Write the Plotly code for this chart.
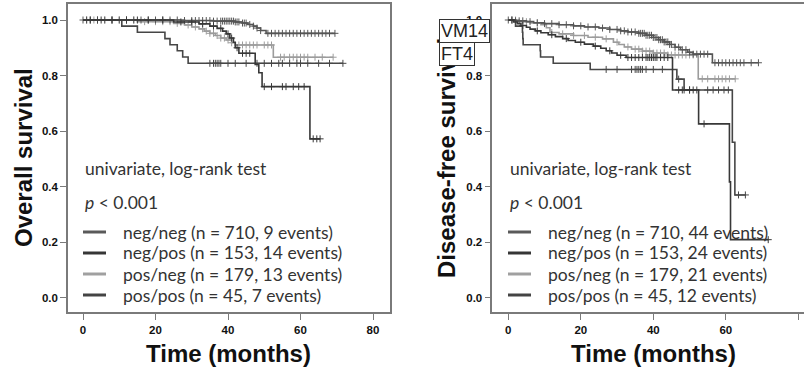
import plotly.graph_objects as go

W, H = 804, 369

GROUPS = ["neg/neg", "neg/pos", "pos/neg", "pos/pos"]

# ---- Overall survival: event times (months) and survival after each event ----
os_nn_t = [28, 36, 42, 44, 45.5, 47, 48, 49, 50.5]
os_nn_s = [0.998, 0.996, 0.993, 0.989, 0.984, 0.978, 0.971, 0.962, 0.952]
os_nn_end = 69.5
os_nn_cens = [0, 2, 4, 6, 8, 10, 12, 14, 16, 18, 20, 22, 24, 26, 28, 30, 31, 32, 33, 34,
              35, 36, 37, 38, 38.5, 39, 39.5, 40, 40.5, 41, 41.5, 42, 42.5, 43, 44, 44.5,
              45, 46, 47, 48, 49, 51, 52, 53, 54, 55, 56, 57, 58, 59, 60, 61, 62, 63, 64,
              65, 66, 67, 68, 69.5]

os_np_t = [25, 32, 35, 37, 38.5, 39.5, 40.5, 41.5, 42, 43, 47.5, 48.5, 49.4, 62.6]
os_np_s = [0.993, 0.986, 0.978, 0.970, 0.960, 0.950, 0.935, 0.920, 0.900, 0.880,
           0.840, 0.810, 0.760, 0.572]
os_np_end = 65.4
os_np_cens = [2, 5, 8, 12, 15, 18, 22, 27, 30, 33, 36, 38, 40, 41, 42.5, 44, 45, 46,
              50, 52, 55, 56, 58, 59.5, 61, 63.5, 64.5, 65.4]

os_pn_t = [15, 25, 28, 30, 32, 33.5, 35, 36.5, 38, 39.5, 41, 42, 52.5]
os_pn_s = [0.994, 0.988, 0.982, 0.975, 0.968, 0.960, 0.952, 0.944, 0.935, 0.928,
           0.918, 0.910, 0.866]
os_pn_end = 69
os_pn_cens = [1, 3, 6, 8, 10, 12, 14, 17, 20, 22, 24, 26, 29, 31, 33, 34, 35, 36, 37,
              38, 39, 40, 41, 43, 44, 45, 46, 47, 48, 50, 51, 52, 54.5, 55.5, 57, 58, 59,
              60, 61, 62, 64, 66, 69]

os_pp_t = [10.7, 15, 22.6, 24, 26, 27.5, 29]
os_pp_s = [0.978, 0.956, 0.933, 0.911, 0.889, 0.867, 0.844]
os_pp_end = 71.7
os_pp_cens = [1, 4, 35, 36, 36.5, 37, 37.5, 38, 40, 42, 45, 48, 50, 52, 54, 55, 57, 59,
              60, 62, 65, 68, 71.7]

# ---- Disease-free survival ----
dfs_nn_t = [2, 5, 7, 10, 14, 18, 21, 25, 28, 31, 33, 36, 38, 40, 41.5, 43, 44.5, 46,
            47.5, 49.5, 51, 56.3]
dfs_nn_s = [0.997, 0.994, 0.990, 0.987, 0.983, 0.979, 0.975, 0.971, 0.966, 0.961,
            0.957, 0.952, 0.945, 0.937, 0.929, 0.921, 0.912, 0.902, 0.893, 0.884,
            0.877, 0.846]
dfs_nn_end = 69
dfs_nn_cens = [0, 1, 2, 3, 4, 6, 8, 10, 12, 14, 16, 18, 20, 22, 24, 26, 28, 30, 31, 32,
               33, 34, 35, 36, 36.5, 37, 37.5, 38, 38.5, 39, 39.5, 40, 40.5, 41, 41.5,
               42, 42.5, 43, 43.5, 44, 44.5, 45, 46, 47, 48, 49, 50, 51, 52, 53, 54, 55,
               57, 58, 59, 60, 61, 62, 63, 64, 65, 67, 69]

dfs_np_t = [1.5, 2.5, 3.5, 5, 6, 7.5, 9, 11, 13, 15, 16.5, 18.5, 21, 23.5, 25.5, 27,
            28.5, 30, 32.5, 45.3, 52.5, 61.0, 61.3]
dfs_np_s = [0.993, 0.987, 0.980, 0.974, 0.967, 0.961, 0.954, 0.947, 0.940, 0.933,
            0.926, 0.920, 0.913, 0.906, 0.898, 0.889, 0.881, 0.873, 0.865, 0.748,
            0.626, 0.417, 0.209]
dfs_np_end = 71.7
dfs_np_cens = [1, 4, 8, 12, 16, 20, 24, 28, 31, 33, 34, 35, 36, 37, 38, 38.5, 39, 39.5,
               40, 40.5, 41, 42, 43, 44, 47, 48, 50, 51, 54, 71.7]

dfs_pn_t = [3, 6, 9, 10.5, 11.5, 14, 18, 22, 26, 29, 30.5, 32, 34, 37, 40, 44, 52.4]
dfs_pn_s = [0.994, 0.989, 0.983, 0.972, 0.955, 0.950, 0.944, 0.938, 0.932, 0.920,
            0.912, 0.903, 0.895, 0.888, 0.881, 0.874, 0.788]
dfs_pn_end = 62.6
dfs_pn_cens = [2, 5, 8, 12, 15, 18, 21, 24, 27, 30, 33, 35, 36, 37, 38, 39, 40, 41, 42,
               43, 44, 45, 46, 47, 48, 49, 50, 51, 53.5, 55, 57, 58, 59, 60, 61, 62.6]

dfs_pp_t = [2, 3.9, 4.0, 4.1, 8.8, 8.9, 12.4, 22.6, 46.5, 48.5, 61.8, 62.5]
dfs_pp_s = [0.978, 0.956, 0.933, 0.911, 0.889, 0.867, 0.844, 0.822, 0.787, 0.748,
            0.560, 0.370]
dfs_pp_end = 65.4
dfs_pp_cens = [27, 30, 34, 35, 35.5, 36, 36.5, 37, 38, 40, 42.5, 47, 48.5, 50, 52,
               55, 56.5, 58, 59.5, 60.7, 63.5, 65.4]

os_labels = ["neg/neg (n = 710, 9 events)", "neg/pos (n = 153, 14 events)",
             "pos/neg (n = 179, 13 events)", "pos/pos (n = 45, 7 events)"]
dfs_labels = ["neg/neg (n = 710, 44 events)", "neg/pos (n = 153, 24 events)",
              "pos/neg (n = 179, 21 events)", "pos/pos (n = 45, 12 events)"]

x_ticks = [0, 20, 40, 60, 80]
y_ticks = [0.0, 0.2, 0.4, 0.6, 0.8, 1.0]

COLORS = {"neg/neg": "#565656", "neg/pos": "#383838",
          "pos/neg": "#9c9c9c", "pos/pos": "#464646"}
LEGEND_COLORS = ["#5a5a5a", "#363636", "#a0a0a0", "#444444"]
FRAME = "#7a7a7a"
TEXT_FONT = "Lato"


def surv_at(t, ev_t, ev_s):
    s = 1.0
    for te, se in zip(ev_t, ev_s):
        if te <= t:
            s = se
    return s


def px_x(p):
    return p / W


def px_y(p):
    return 1 - p / H


fig = go.Figure()

panels = [
    dict(xa="x", ya="y", data={
        "neg/neg": (os_nn_t, os_nn_s, os_nn_end, os_nn_cens),
        "neg/pos": (os_np_t, os_np_s, os_np_end, os_np_cens),
        "pos/neg": (os_pn_t, os_pn_s, os_pn_end, os_pn_cens),
        "pos/pos": (os_pp_t, os_pp_s, os_pp_end, os_pp_cens)}),
    dict(xa="x2", ya="y2", data={
        "neg/neg": (dfs_nn_t, dfs_nn_s, dfs_nn_end, dfs_nn_cens),
        "neg/pos": (dfs_np_t, dfs_np_s, dfs_np_end, dfs_np_cens),
        "pos/neg": (dfs_pn_t, dfs_pn_s, dfs_pn_end, dfs_pn_cens),
        "pos/pos": (dfs_pp_t, dfs_pp_s, dfs_pp_end, dfs_pp_cens)}),
]

draw_order = ["pos/neg", "neg/neg", "pos/pos", "neg/pos"]
for pan in panels:
    for g in draw_order:
        ev_t, ev_s, end_t, cens = pan["data"][g]
        c = COLORS[g]
        xs = [0] + ev_t + [end_t]
        ys = [1.0] + ev_s + [ev_s[-1]]
        fig.add_trace(go.Scatter(
            x=xs, y=ys, mode="lines", line=dict(shape="hv", color=c, width=1.6),
            xaxis=pan["xa"], yaxis=pan["ya"], showlegend=False, hoverinfo="skip"))
        fig.add_trace(go.Scatter(
            x=cens, y=[surv_at(t, ev_t, ev_s) for t in cens], mode="markers",
            marker=dict(symbol="cross-thin", size=5, color=c,
                        line=dict(width=1, color=c)),
            xaxis=pan["xa"], yaxis=pan["ya"], showlegend=False, hoverinfo="skip"))

axis_common = dict(showgrid=False, zeroline=False, showline=True, linecolor=FRAME,
                   linewidth=1.5, ticks="outside", ticklen=6, tickwidth=1.3,
                   tickcolor=FRAME,
                   tickfont=dict(family="Liberation Sans", size=11.5, color="#111111",
                                 weight="bold"))

fig.update_layout(
    width=W, height=H, margin=dict(l=0, r=0, t=0, b=0),
    paper_bgcolor="white", plot_bgcolor="white", showlegend=False,
    xaxis=dict(domain=[68 / W, 390 / W], range=[-4.14, 84.69], tickvals=x_ticks,
               ticktext=[str(v) for v in x_ticks], mirror=True, anchor="y",
               **axis_common),
    yaxis=dict(domain=[1 - 312 / H, 1 - 4 / H], range=[-0.0515, 1.0576],
               tickvals=y_ticks, ticktext=[f"{v:.1f}" for v in y_ticks], mirror=True,
               anchor="x", **axis_common),
    xaxis2=dict(domain=[492.3 / W, 1.0], range=[-4.41, 81.57], tickvals=x_ticks,
                ticktext=[str(v) for v in x_ticks], mirror=True, anchor="y2",
                **axis_common),
    yaxis2=dict(domain=[1 - 312 / H, 1 - 4 / H], range=[-0.0515, 1.0576],
                tickvals=y_ticks, ticktext=[f"{v:.1f}" for v in y_ticks], mirror=False,
                anchor="x2", **axis_common),
)

ann = []
shapes = []
title_font = dict(family="Liberation Sans", size=24, color="#111111", weight="bold")
body_font = dict(family=TEXT_FONT, size=17.5, color="#333333")

# axis titles
ann.append(dict(text="Overall survival", x=px_x(23), y=px_y(158), xref="paper",
                yref="paper", textangle=-90, showarrow=False, font=title_font,
                xanchor="center", yanchor="middle"))
ann.append(dict(text="Disease-free survival", x=px_x(446), y=px_y(158), xref="paper",
                yref="paper", textangle=-90, showarrow=False, font=title_font,
                xanchor="center", yanchor="middle"))
ann.append(dict(text="Time (months)", x=px_x(228), y=px_y(353), xref="paper",
                yref="paper", showarrow=False, font=title_font, xanchor="center",
                yanchor="middle"))
ann.append(dict(text="Time (months)", x=px_x(653), y=px_y(353), xref="paper",
                yref="paper", showarrow=False, font=title_font, xanchor="center",
                yanchor="middle"))

# boxed labels over the right y-axis title
box_font = dict(family="Liberation Sans", size=18, color="#222222")
ann.append(dict(text="VM14", x=px_x(439), y=px_y(19), xref="paper", yref="paper",
                showarrow=False, font=box_font, xanchor="left", yanchor="top",
                bgcolor="white", bordercolor="#333333", borderwidth=1, borderpad=1))
ann.append(dict(text="FT4", x=px_x(439), y=px_y(42), xref="paper", yref="paper",
                showarrow=False, font=box_font, xanchor="left", yanchor="top",
                bgcolor="white", bordercolor="#333333", borderwidth=1, borderpad=1))

# in-plot statistics text and legends
for x0, labels in [(83, os_labels), (508, dfs_labels)]:
    ann.append(dict(text="univariate, log-rank test", x=px_x(x0), y=px_y(168),
                    xref="paper", yref="paper", showarrow=False, font=body_font,
                    xanchor="left", yanchor="middle"))
    ann.append(dict(text="<i>p</i> &lt; 0.001", x=px_x(x0), y=px_y(202),
                    xref="paper", yref="paper", showarrow=False, font=body_font,
                    xanchor="left", yanchor="middle"))
    for i, lab in enumerate(labels):
        yy = 232 + i * 21
        shapes.append(dict(type="line", xref="paper", yref="paper",
                           x0=px_x(x0), x1=px_x(x0 + 23), y0=px_y(yy), y1=px_y(yy),
                           line=dict(color=LEGEND_COLORS[i], width=3)))
        ann.append(dict(text=lab, x=px_x(x0 + 38), y=px_y(yy), xref="paper",
                        yref="paper", showarrow=False, font=body_font,
                        xanchor="left", yanchor="middle"))

fig.update_layout(annotations=ann, shapes=shapes)
fig.write_html("out.html")
